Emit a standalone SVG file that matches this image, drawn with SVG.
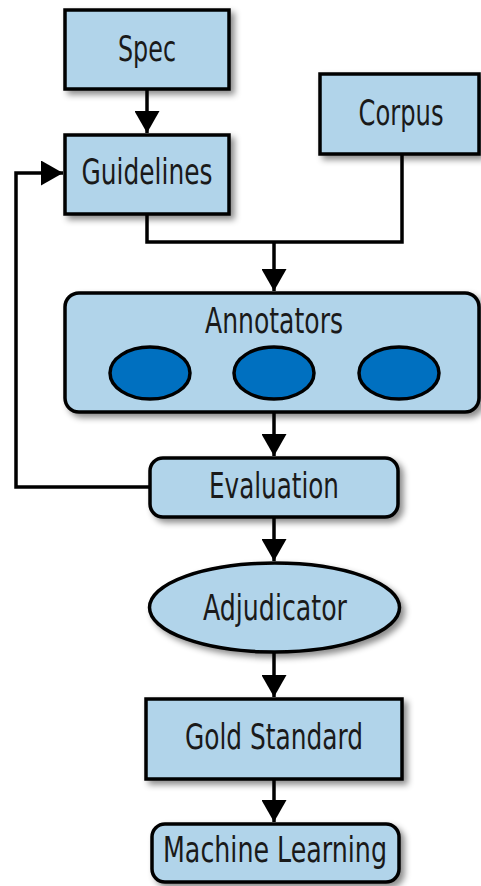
<svg xmlns="http://www.w3.org/2000/svg" width="481" height="886" viewBox="0 0 481 886">
<style>
.box{fill:#b1d4ea;stroke:#000;stroke-width:3.5;filter:url(#sh)}
.ann{fill:#0070c0;stroke:#000;stroke-width:3.5}
.lbl{font-family:"Liberation Sans Narrow","DejaVu Sans Condensed","Liberation Sans",sans-serif;font-size:35px;fill:#1a1a1a;text-anchor:middle}
.con{fill:none;stroke:#000;stroke-width:3.5}
</style>
<defs>
<filter id="sh" x="-20%" y="-20%" width="150%" height="150%">
<feDropShadow dx="4" dy="4" stdDeviation="3" flood-color="#000" flood-opacity="0.45"/>
</filter>
<marker id="ah" markerUnits="userSpaceOnUse" markerWidth="22" markerHeight="25" refX="22" refY="12.5" orient="auto" viewBox="0 0 22 25">
<path d="M0,0 L22,12.5 L0,25 Z" fill="#000"/>
</marker>
</defs>
<rect width="481" height="886" fill="#fff"/>
<g id="connectors">
<path class="con" d="M147,89 V133" marker-end="url(#ah)"/>
<path class="con" d="M150,487 H16 V173 H63" marker-end="url(#ah)"/>
<path class="con" d="M147,214 V242 H402 V154"/>
<path class="con" d="M274,242 V291" marker-end="url(#ah)"/>
<path class="con" d="M274,413 V456" marker-end="url(#ah)"/>
<path class="con" d="M274,517 V561" marker-end="url(#ah)"/>
<path class="con" d="M274,652 V697" marker-end="url(#ah)"/>
<path class="con" d="M274,779 V822" marker-end="url(#ah)"/>
</g>
<g id="spec">
<rect class="box" x="65" y="10" width="164" height="79"/>
<text class="lbl" x="147" y="61" textLength="58" lengthAdjust="spacingAndGlyphs">Spec</text>
</g>
<g id="guidelines">
<rect class="box" x="65" y="135" width="164" height="79"/>
<text class="lbl" x="147" y="184" textLength="131" lengthAdjust="spacingAndGlyphs">Guidelines</text>
</g>
<g id="corpus">
<rect class="box" x="320" y="74" width="159" height="80"/>
<text class="lbl" x="401" y="125" textLength="85" lengthAdjust="spacingAndGlyphs">Corpus</text>
</g>
<g id="annotators">
<rect class="box" x="65" y="293" width="414" height="119" rx="14"/>
<text class="lbl" x="274" y="333" textLength="138" lengthAdjust="spacingAndGlyphs">Annotators</text>
<ellipse class="ann" cx="150" cy="373" rx="40" ry="26"/>
<ellipse class="ann" cx="274" cy="373" rx="40" ry="26"/>
<ellipse class="ann" cx="399" cy="373" rx="40" ry="26"/>
</g>
<g id="evaluation">
<rect class="box" x="150" y="458" width="248" height="59" rx="13"/>
<text class="lbl" x="274" y="498" textLength="130" lengthAdjust="spacingAndGlyphs">Evaluation</text>
</g>
<g id="adjudicator">
<ellipse class="box" cx="274.5" cy="607.5" rx="125" ry="44.5"/>
<text class="lbl" x="275" y="620" textLength="144" lengthAdjust="spacingAndGlyphs">Adjudicator</text>
</g>
<g id="gold-standard">
<rect class="box" x="146" y="699" width="256" height="80"/>
<text class="lbl" x="274" y="749" textLength="178" lengthAdjust="spacingAndGlyphs">Gold Standard</text>
</g>
<g id="machine-learning">
<rect class="box" x="152" y="824" width="247" height="58" rx="13"/>
<text class="lbl" x="275" y="862" textLength="224" lengthAdjust="spacingAndGlyphs">Machine Learning</text>
</g>
</svg>
